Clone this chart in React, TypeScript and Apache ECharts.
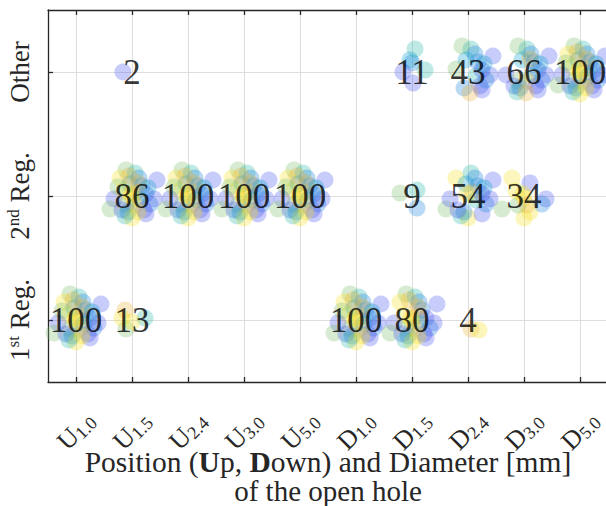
import React, { useEffect, useRef } from "react";
import * as echarts from "echarts";

// Categories: position letter + diameter [mm]
const catLetters = ["U", "U", "U", "U", "U", "D", "D", "D", "D", "D"];
const catDiameters = ["1.0", "1.5", "2.4", "3.0", "5.0", "1.0", "1.5", "2.4", "3.0", "5.0"];
const regionNames = ["1st", "2nd", "Other"];

// Percentages per category for each region
const pct1st = [100, 13, 0, 0, 0, 100, 80, 4, 0, 0];
const pct2nd = [0, 86, 100, 100, 100, 0, 9, 54, 34, 0];
const pctOther = [0, 2, 0, 0, 0, 0, 11, 43, 66, 100];

// Jitter of individual trials (data units) and their colour index
const jitterX = [
  -0.107, 0.054, -0.214, 0.125, 0.446, -0.036, 0.179, -0.143, 0.071, 0.25,
  -0.321, 0, -0.107, 0.143, 0.321, -0.393, -0.179, 0.054, 0.214, -0.071,
  0, 0.25, -0.25, 0.107, -0.018, -0.125, 0.393, 0.107, -0.054, 0.286,
  -0.161, 0.196, -0.125, 0.232, -0.179, 0, -0.214, 0.089, 0.089, 0.018,
  0.036, 0.107,
];
const jitterY = [
  0.21, 0.185, 0.145, 0.145, 0.129, 0.097, 0.081, 0.04, 0.032, 0.016,
  -0.024, -0.016, -0.073, -0.032, -0.065, -0.105, -0.113, -0.073, -0.113, -0.129,
  -0.177, -0.145, 0.073, 0.105, 0.016, -0.161, -0.024, -0.129, 0.161, 0.065,
  0, -0.081, 0.081, 0.016, 0.016, 0.073, 0.024, 0.048, -0.097, -0.089,
  -0.169, 0.105,
];
const jitterColor = [
  4, 3, 6, 1, 0, 2, 1, 6, 5, 0,
  0, 6, 4, 3, 1, 4, 0, 5, 0, 1,
  6, 0, 4, 5, 6, 3, 0, 6, 5, 2,
  0, 6, 5, 3, 6, 1, 4, 3, 1, 0,
  5, 0,
];
const parula = ["#4a55f0", "#1a80dc", "#0aa0cc", "#2ab5aa", "#7cbe6a", "#eab23c", "#f6e020"];

const ALL = jitterX.map((_, i) => i).filter((i) => ![30, 31, 32, 33, 34, 35, 36, 37, 38, 39, 40, 41].includes(i));

// Which trials fall in each cluster: [categoryIndex, regionIndex, trial indices]
const clusters: [number, number, number[]][] = [
  [0, 0, ALL],
  [1, 0, [32, 12, 33, 34, 11]],
  [5, 0, ALL],
  [6, 0, ALL.filter((i) => ![5, 22, 29].includes(i))],
  [7, 0, [17, 31]],
  [1, 1, ALL],
  [2, 1, ALL],
  [3, 1, ALL],
  [4, 1, ALL],
  [6, 1, [36, 37, 38]],
  [7, 1, [2, 1, 4, 15, 20, 10, 5, 6, 8, 13, 19, 21, 24, 25, 29, 3, 14, 9, 16, 26]],
  [8, 1, [2, 41, 15, 20, 26, 27, 12, 11, 24, 7, 17, 14]],
  [1, 2, [30]],
  [6, 2, [1, 35, 33, 30, 39, 5]],
  [7, 2, [0, 1, 4, 36, 13, 26, 3, 6, 19, 21, 18, 14, 5, 9, 29, 40]],
  [8, 2, ALL.filter((i) => ![2, 7, 11, 20, 24, 27, 15, 22, 8, 28].includes(i)).concat([40])],
  [9, 2, ALL],
];

const titleLine2 = "of the open hole";

const FONT = "'Liberation Serif', 'DejaVu Serif', serif";

export default function App() {
  const ref = useRef<HTMLDivElement>(null);
  useEffect(() => {
    document.body.style.margin = "0";
    const chart = echarts.init(ref.current!, null, { renderer: "svg" });

    const points: any[] = [];
    clusters.forEach(([c, r, idx]) => {
      idx.forEach((t) => {
        points.push({
          value: [c + 1 + jitterX[t], r + 1 + jitterY[t]],
          itemStyle: { color: parula[jitterColor[t]], opacity: 0.3 },
        });
      });
    });

    const labels: any[] = [];
    [pct1st, pct2nd, pctOther].forEach((arr, r) => {
      arr.forEach((v, c) => {
        if (v > 0) labels.push([c + 1, r + 1, v]);
      });
    });

    const ticksX = catLetters.map((_, i) => i + 1);
    const ticksY = regionNames.map((_, i) => i + 1);

    chart.setOption({
      animation: false,
      grid: { left: 48, top: 10, right: -2, bottom: 124, containLabel: false, outerBoundsMode: "none" },
      graphic: [
        {
          type: "text",
          x: 328,
          y: 491,
          style: {
            text: titleLine2,
            fontSize: 29,
            fontFamily: FONT,
            fill: "#262626",
            align: "center",
            verticalAlign: "middle",
          },
        },
      ],
      xAxis: [
        {
          type: "value",
          min: 0.5,
          max: 10.5,
          position: "bottom",
          axisLine: { show: true, onZero: false, lineStyle: { color: "#262626", width: 1.3 } },
          axisTick: { show: true, inside: true, length: 5, customValues: ticksX, lineStyle: { color: "#262626", width: 1.3 } },
          splitLine: { show: true, lineStyle: { color: "#dedede", width: 1 } },
          axisLabel: {
            customValues: ticksX,
            rotate: 45,
            align: "center",
            verticalAlign: "middle",
            margin: 49,
            formatter: (v: number) => `{m|${catLetters[v - 1]}}{s|${catDiameters[v - 1]}}`,
            rich: {
              m: { fontSize: 26, fontFamily: FONT, color: "#262626", lineHeight: 28, verticalAlign: "middle" },
              s: { fontSize: 18, fontFamily: FONT, color: "#262626", lineHeight: 18, verticalAlign: "bottom" },
            },
          },
          name: "{n|Position (}{b|U}{n|p, }{b|D}{n|own) and Diameter [mm]}",
          nameLocation: "middle",
          nameGap: 65,
          nameMoveOverlap: false,
          nameTextStyle: {
            verticalAlign: "top",
            rich: {
              n: { fontSize: 29.5, fontFamily: FONT, color: "#262626", lineHeight: 29 },
              b: { fontSize: 29.5, fontFamily: FONT, color: "#262626", fontWeight: "bold", lineHeight: 29 },
            },
          },
        },
        {
          type: "value",
          min: 0.5,
          max: 10.5,
          position: "top",
          axisLine: { show: true, onZero: false, lineStyle: { color: "#262626", width: 1.3 } },
          axisTick: { show: true, inside: true, length: 5, customValues: ticksX, lineStyle: { color: "#262626", width: 1.3 } },
          splitLine: { show: false },
          axisLabel: { show: false },
        },
      ],
      yAxis: [
        {
          type: "value",
          min: 0.5,
          max: 3.5,
          position: "left",
          axisLine: { show: true, onZero: false, lineStyle: { color: "#262626", width: 1.3 } },
          axisTick: { show: true, inside: true, length: 5, customValues: ticksY, lineStyle: { color: "#262626", width: 1.3 } },
          splitLine: { show: true, lineStyle: { color: "#dedede", width: 1 } },
          axisLabel: {
            customValues: ticksY,
            rotate: 90,
            margin: 14,
            formatter: (v: number) => {
              const n = regionNames[v - 1];
              if (n === "Other") return "{m|Other}";
              return `{m|${n[0]}}{s|${n.slice(1)}}{m| Reg.}`;
            },
            rich: {
              m: { fontSize: 27, fontFamily: FONT, color: "#262626", lineHeight: 29, verticalAlign: "middle" },
              s: { fontSize: 17, fontFamily: FONT, color: "#262626", lineHeight: 17, verticalAlign: "top" },
            },
          },
        },
      ],
      series: [
        {
          type: "scatter",
          xAxisIndex: 0,
          yAxisIndex: 0,
          symbolSize: 17,
          data: points,
          z: 2,
        },
        {
          type: "scatter",
          xAxisIndex: 0,
          yAxisIndex: 0,
          symbolSize: 1,
          itemStyle: { color: "rgba(0,0,0,0)" },
          data: labels,
          z: 5,
          label: {
            show: true,
            position: "inside",
            formatter: (p: any) => String(p.value[2]),
            fontSize: 35,
            fontFamily: FONT,
            color: "#000",
          },
        },
      ],
    });
    return () => chart.dispose();
  }, []);
  return <div ref={ref} style={{ width: 606, height: 506 }} />;
}
